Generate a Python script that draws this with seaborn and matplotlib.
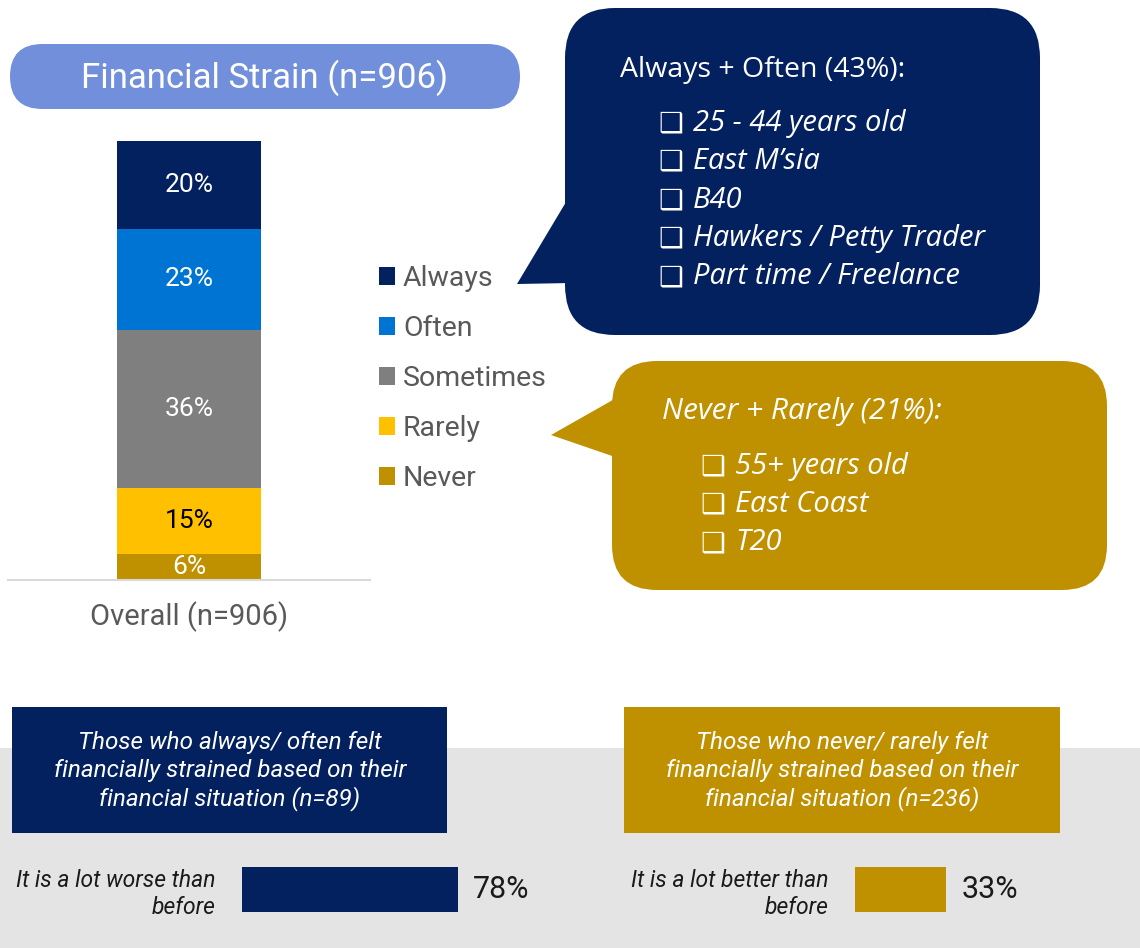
import matplotlib
matplotlib.use('Agg')
import matplotlib.pyplot as plt
import seaborn as sns
import pandas as pd
from matplotlib.patches import FancyBboxPatch, Polygon, Rectangle, Patch

# ---------------- data ----------------
categories = ['Always', 'Often', 'Sometimes', 'Rarely', 'Never']
shares = [20, 23, 36, 15, 6]
group_label = 'Overall (n=906)'
title = 'Financial Strain (n=906)'

strain_title = 'Always + Often (43%):'
strain_items = ['25 - 44 years old', 'East M\u2019sia', 'B40', 'Hawkers / Petty Trader', 'Part time / Freelance']
relief_title = 'Never + Rarely (21%):'
relief_items = ['55+ years old', 'East Coast', 'T20']

worse_header = ['Those who always/ often felt', 'financially strained based on their', 'financial situation (n=89)']
better_header = ['Those who never/ rarely felt', 'financially strained based on their', 'financial situation (n=236)']
worse_label = 'It is a lot worse than\nbefore'
worse_value = [78]
better_label = 'It is a lot better than\nbefore'
better_value = [33]

# ---------------- style ----------------
NAVY = '#03205F'
GOLD = '#BF9000'
colors = [NAVY, '#0074D3', '#7F7F7F', '#FFC000', GOLD]
label_colors = ['white', 'white', 'white', 'black', 'white']

sns.set_theme(style='white')
plt.rcParams['font.family'] = ['Roboto', 'DejaVu Sans']

W, H = 1140, 948
fig = plt.figure(figsize=(W / 100, H / 100), dpi=100)
fig.patch.set_facecolor('white')


def fx(x):
    return x / W


def fy(y):
    return 1 - y / H


# background / annotation layer in pixel coordinates
bg = fig.add_axes([0, 0, 1, 1], zorder=0)
bg.set_xlim(0, W)
bg.set_ylim(H, 0)
bg.axis('off')

# title pill
bg.add_patch(FancyBboxPatch((10, 44), 510, 65, boxstyle='round,pad=0,rounding_size=32.5',
                            fc='#728FDC', ec='none'))
bg.text(265, 78, title, ha='center', va='center', color='white', fontsize=25)

# callout 1 (navy)
bg.add_patch(FancyBboxPatch((565, 8), 475, 327, boxstyle='round,pad=0,rounding_size=50',
                            fc=NAVY, ec='none'))
bg.add_patch(Polygon([(572, 192), (517, 284), (572, 283)], closed=True, fc=NAVY, ec='none'))
bg.text(620, 70, strain_title, ha='left', va='center', color='white', fontsize=20.5,
        family=['Open Sans', 'DejaVu Sans'])
for j, item in enumerate(strain_items):
    y = 123 + j * 38.5
    bg.text(658, y, '\u2751', ha='left', va='center', color='white', fontsize=20,
            fontweight='bold', family=['DejaVu Sans'])
    bg.text(693, y, item, ha='left', va='center', color='white', fontsize=21,
            style='italic', family=['Open Sans', 'DejaVu Sans'])

# callout 2 (gold)
bg.add_patch(FancyBboxPatch((612, 361), 495, 229, boxstyle='round,pad=0,rounding_size=45',
                            fc=GOLD, ec='none'))
bg.add_patch(Polygon([(618, 397), (551, 435), (618, 458)], closed=True, fc=GOLD, ec='none'))
bg.text(662, 412, relief_title, ha='left', va='center', color='white', fontsize=21.5,
        style='italic', family=['Open Sans', 'DejaVu Sans'])
for j, item in enumerate(relief_items):
    y = 466 + j * 38.5
    bg.text(700, y, '\u2751', ha='left', va='center', color='white', fontsize=20,
            fontweight='bold', family=['DejaVu Sans'])
    bg.text(735, y, item, ha='left', va='center', color='white', fontsize=21,
            style='italic', family=['Open Sans', 'DejaVu Sans'])

# bottom band and header boxes
bg.add_patch(Rectangle((0, 748), W, 200, fc='#E4E4E4', ec='none'))
bg.add_patch(Rectangle((12, 707), 435, 126, fc=NAVY, ec='none'))
bg.add_patch(Rectangle((624, 707), 436, 126, fc=GOLD, ec='none'))
for j, line in enumerate(worse_header):
    bg.text(230, 743 + j * 28, line, ha='center', va='center', color='white',
            fontsize=17.5, style='italic')
for j, line in enumerate(better_header):
    bg.text(842, 743 + j * 28, line, ha='center', va='center', color='white',
            fontsize=17.5, style='italic')

# ---------------- main stacked bar ----------------
ax = fig.add_axes([fx(8), fy(580), (370 - 8) / W, (580 - 141) / H], zorder=2)
ax.set_facecolor('none')
tops = []
running = 0
for s in reversed(shares):
    running += s
    tops.append(running)
tops = list(reversed(tops))  # cumulative top of each segment, Always first
df = pd.DataFrame({'group': [group_label] * len(categories), 'category': categories,
                   'share': shares, 'top': tops})
for i in range(len(categories)):
    sns.barplot(data=df.iloc[[i]], x='group', y='top', color=colors[i], saturation=1,
                width=0.4, errorbar=None, linewidth=0, ax=ax)
for i in range(len(categories)):
    ax.text(0, df['top'][i] - shares[i] / 2, f'{shares[i]}%', ha='center', va='center',
            color=label_colors[i], fontsize=19)
ax.set_xlim(-0.5, 0.5)
ax.set_ylim(0, 100)
ax.set_xlabel('')
ax.set_ylabel('')
ax.set_yticks([])
for sp in ['top', 'left', 'right']:
    ax.spines[sp].set_visible(False)
ax.spines['bottom'].set_color('#D9D9D9')
ax.spines['bottom'].set_linewidth(1.5)
ax.tick_params(axis='x', length=0, pad=15, labelsize=21, labelcolor='#595959')

fs_leg = 20.5
px = fs_leg * 100 / 72
handles = [Patch(facecolor=c, edgecolor='none', label=l) for c, l in zip(colors, categories)]
leg = ax.legend(handles=handles, loc='upper left', bbox_to_anchor=(fx(379), fy(265)),
                bbox_transform=fig.transFigure, frameon=False, fontsize=fs_leg,
                handlelength=16 / px, handleheight=16 / px, handletextpad=8 / px,
                labelspacing=0.81, borderpad=0, borderaxespad=0)
for t in leg.get_texts():
    t.set_color('#595959')

# ---------------- bottom bars ----------------
def small_bar(x0, value, label, color):
    a = fig.add_axes([fx(x0), fy(912), 277 / W, 45 / H], zorder=2)
    a.set_facecolor('none')
    sns.barplot(x=value, y=[label], orient='h', color=color, saturation=1, width=1,
                errorbar=None, linewidth=0, ax=a)
    a.set_xlim(0, 100)
    a.set_ylim(0.5, -0.5)
    a.set_xticks([])
    a.set_xlabel('')
    a.set_ylabel('')
    for sp in a.spines.values():
        sp.set_visible(False)
    a.tick_params(axis='y', length=0, pad=19, labelsize=16.5, labelcolor='#1A1A1A')
    for t in a.get_yticklabels():
        t.set_style('italic')
        t.set_linespacing(1.25)
    a.bar_label(a.containers[0], fmt='%d%%', padding=11, fontsize=22, color='#1A1A1A')
    return a

small_bar(242, worse_value, worse_label, NAVY)
small_bar(855, better_value, better_label, GOLD)

fig.savefig('out.png', dpi=100, facecolor='white')
